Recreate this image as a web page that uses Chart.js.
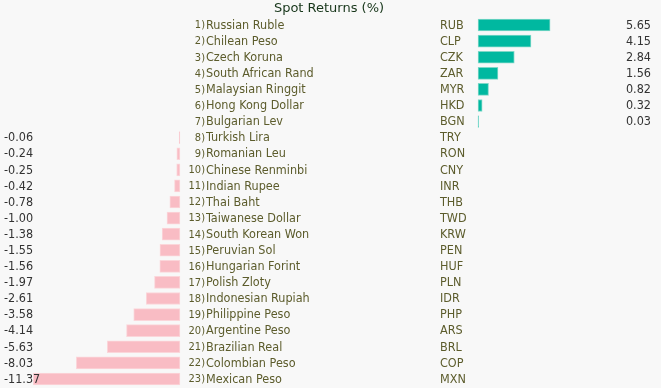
<!DOCTYPE html>
<html>
<head>
<meta charset="utf-8">
<script src="https://cdn.jsdelivr.net/npm/chart.js@4"></script>
<style>
    html, body { margin: 0; padding: 0; background: #f8f8f8; }
    #wrap { width: 661px; height: 388px; position: relative; }
</style>
</head>
<body>
<div id="wrap"><canvas id="spotChart" width="661" height="388"></canvas></div>
<script>
const currencyNames = [
    'Russian Ruble', 'Chilean Peso', 'Czech Koruna', 'South African Rand', 'Malaysian Ringgit',
    'Hong Kong Dollar', 'Bulgarian Lev', 'Turkish Lira', 'Romanian Leu', 'Chinese Renminbi',
    'Indian Rupee', 'Thai Baht', 'Taiwanese Dollar', 'South Korean Won', 'Peruvian Sol',
    'Hungarian Forint', 'Polish Zloty', 'Indonesian Rupiah', 'Philippine Peso', 'Argentine Peso',
    'Brazilian Real', 'Colombian Peso', 'Mexican Peso'
];
const currencyCodes = [
    'RUB', 'CLP', 'CZK', 'ZAR', 'MYR', 'HKD', 'BGN', 'TRY', 'RON', 'CNY', 'INR', 'THB',
    'TWD', 'KRW', 'PEN', 'HUF', 'PLN', 'IDR', 'PHP', 'ARS', 'BRL', 'COP', 'MXN'
];
const spotReturns = [
    5.65, 4.15, 2.84, 1.56, 0.82, 0.32, 0.03, -0.06, -0.24, -0.25, -0.42, -0.78,
    -1.00, -1.38, -1.55, -1.56, -1.97, -2.61, -3.58, -4.14, -5.63, -8.03, -11.37
];

const chartTitle = 'Spot Returns (%)';

const gainValues = spotReturns.map(v => v >= 0 ? v : null);
const lossValues = spotReturns.map(v => v < 0 ? v : null);

// draws the rank / name / code columns and the value labels
const tableText = {
    id: 'tableText',
    afterDatasetsDraw(chart) {
        const ctx = chart.ctx;
        const yScale = chart.scales.y;
        ctx.save();
        ctx.textBaseline = 'middle';

        ctx.fillStyle = '#17361a';
        ctx.font = '13px "DejaVu Sans", sans-serif';
        ctx.textAlign = 'center';
        ctx.fillText(chartTitle, 329, 9);

        spotReturns.forEach((val, i) => {
            const y = yScale.getPixelForValue(i) + 0.5;

            ctx.fillStyle = '#5c5c2c';
            ctx.textAlign = 'right';
            ctx.font = '11px "Liberation Sans Narrow", "DejaVu Sans Condensed", sans-serif';
            ctx.fillText((i + 1) + ')', 205, y);

            ctx.textAlign = 'left';
            ctx.font = '12.5px "DejaVu Sans Condensed", "DejaVu Sans", sans-serif';
            ctx.fillText(currencyNames[i], 206, y);
            ctx.fillText(currencyCodes[i], 440, y);

            ctx.fillStyle = '#333333';
            if (val >= 0) {
                ctx.textAlign = 'right';
                ctx.fillText(val.toFixed(2), 651, y);
            } else {
                ctx.textAlign = 'left';
                ctx.fillText(val.toFixed(2), 4, y);
            }
        });
        ctx.restore();
    }
};

const spotCanvas = document.getElementById('spotChart').getContext('2d');
const spotChart = new Chart(spotCanvas, {
    type: 'bar',
    data: {
        labels: currencyCodes,
        datasets: [
            {
                label: 'Gains',
                data: gainValues,
                xAxisID: 'xPos',
                backgroundColor: '#00b8a0',
                borderColor: '#7fd8c8',
                borderWidth: 1,
                borderSkipped: false,
                barThickness: 12
            },
            {
                label: 'Losses',
                data: lossValues,
                xAxisID: 'xNeg',
                backgroundColor: '#f9bcc4',
                borderColor: '#fbd6da',
                borderWidth: 1,
                borderSkipped: false,
                barThickness: 12
            }
        ]
    },
    options: {
        indexAxis: 'y',
        responsive: false,
        animation: false,
        layout: {
            padding: { top: 17, bottom: 1, left: 0, right: 0 }
        },
        scales: {
            y: {
                display: false,
                stacked: true,
                offset: true
            },
            // loss bars grow left from x = 180
            xNeg: {
                type: 'linear',
                display: false,
                min: -13.95,
                max: 37.3
            },
            // gain bars grow right from x = 478
            xPos: {
                type: 'linear',
                display: false,
                min: -37.5,
                max: 14.35
            }
        },
        plugins: {
            legend: { display: false },
            tooltip: { enabled: false }
        }
    },
    plugins: [tableText]
});
</script>
</body>
</html>
